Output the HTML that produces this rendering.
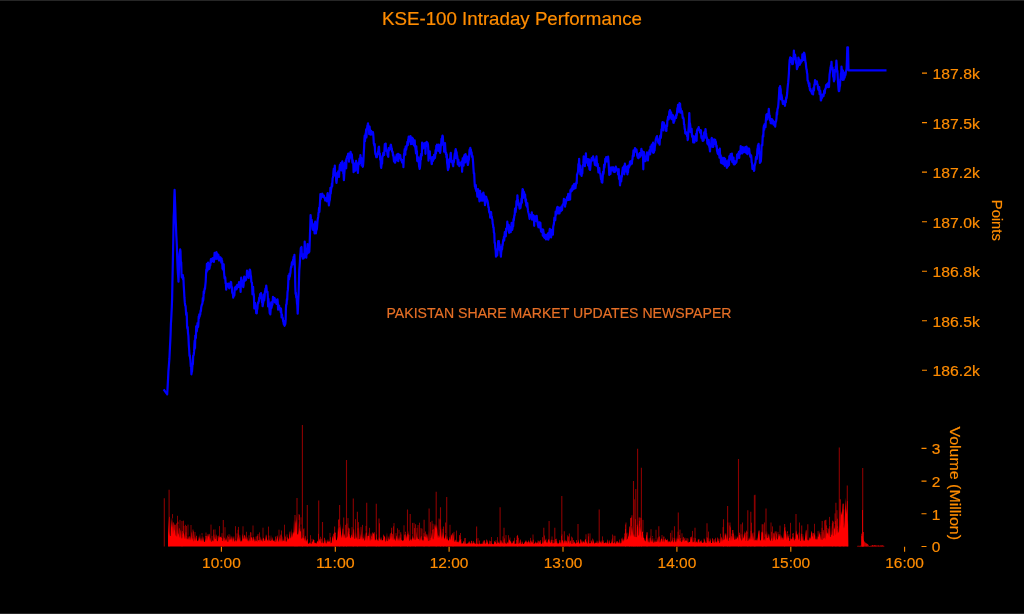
<!DOCTYPE html>
<html><head><meta charset="utf-8"><style>
html,body{margin:0;padding:0;background:#000;width:1024px;height:614px;overflow:hidden}
svg{display:block;filter:blur(0.3px)}
.t{fill:#ff8c00;stroke:#ff8c00;stroke-width:0.2;font-family:"Liberation Sans",sans-serif}
text{font-family:"Liberation Sans",sans-serif}
</style></head><body>
<svg width="1024" height="614" viewBox="0 0 1024 614">
<rect x="0" y="0" width="1024" height="614" fill="#000"/>
<rect x="0" y="0" width="1024" height="1" fill="#262626"/>
<rect x="0" y="613" width="1024" height="1" fill="#262626"/>
<text x="512" y="25.1" text-anchor="middle" class="t" font-size="17.7" textLength="260" lengthAdjust="spacingAndGlyphs">KSE-100 Intraday Performance</text>
<text x="386.5" y="317.9" fill="#e66f26" stroke="#e66f26" stroke-width="0.2" font-size="15.5" textLength="345" lengthAdjust="spacingAndGlyphs">PAKISTAN SHARE MARKET UPDATES NEWSPAPER</text>
<path d="M163.6 389.4 L163.9 389.8 L164.3 390.3 L164.6 390.7 L164.9 391.2 L165.2 391.6 L165.6 392.1 L165.9 392.5 L166.2 393.0 L166.5 393.4 L166.9 393.9 L167.2 394.3 L167.5 389.1 L167.8 383.9 L168.1 378.1 L168.4 371.3 L168.8 366.4 L169.1 362.7 L169.4 358.7 L169.7 352.7 L170.0 346.4 L170.3 340.5 L170.6 333.9 L170.9 324.1 L171.2 319.5 L171.5 313.2 L171.8 307.1 L172.1 298.9 L172.4 283.8 L172.7 269.0 L173.1 249.2 L173.4 234.2 L173.7 217.0 L174.0 211.2 L174.3 197.4 L174.6 189.8 L174.9 198.2 L175.3 208.5 L175.6 219.0 L175.9 224.6 L176.3 235.5 L176.6 240.5 L176.9 247.3 L177.3 260.0 L177.6 267.9 L177.9 273.1 L178.2 277.2 L178.5 281.6 L178.8 272.7 L179.2 260.5 L179.5 254.2 L179.8 252.1 L180.2 249.3 L180.5 251.3 L180.8 261.5 L181.2 262.4 L181.5 273.8 L181.8 277.4 L182.1 277.0 L182.4 276.9 L182.8 275.0 L183.1 279.7 L183.4 277.7 L183.7 284.9 L184.1 291.4 L184.4 297.2 L184.8 302.4 L185.2 305.6 L185.6 306.0 L185.9 310.7 L186.2 314.9 L186.5 312.6 L186.8 315.9 L187.1 326.8 L187.4 328.5 L187.7 327.1 L188.0 333.0 L188.4 335.9 L188.8 344.8 L189.2 350.0 L189.5 356.0 L189.8 355.2 L190.1 357.9 L190.4 360.3 L190.8 366.4 L191.1 364.2 L191.4 374.3 L191.7 372.0 L192.0 371.6 L192.3 367.0 L192.6 363.7 L192.9 364.3 L193.2 355.5 L193.5 355.6 L193.8 354.2 L194.1 351.4 L194.4 344.7 L194.7 340.7 L195.0 348.4 L195.3 335.6 L195.6 335.5 L195.9 338.2 L196.2 326.4 L196.5 327.8 L196.8 331.3 L197.2 328.0 L197.5 323.1 L197.8 324.4 L198.1 326.8 L198.4 323.6 L198.7 316.6 L199.0 318.5 L199.3 314.3 L199.6 316.6 L199.9 314.4 L200.2 314.7 L200.6 310.5 L200.9 311.1 L201.2 307.4 L201.5 306.0 L201.8 304.9 L202.1 304.4 L202.5 303.0 L202.8 298.0 L203.1 300.7 L203.4 298.9 L203.7 291.6 L204.0 293.4 L204.4 290.1 L204.7 288.4 L205.0 289.0 L205.3 285.4 L205.7 281.7 L206.0 274.7 L206.3 269.6 L206.6 272.0 L206.9 263.8 L207.2 265.6 L207.5 270.4 L207.8 267.2 L208.1 262.7 L208.4 267.3 L208.8 266.1 L209.1 267.3 L209.4 268.9 L209.7 267.0 L210.0 263.5 L210.3 265.4 L210.6 262.2 L210.9 259.0 L211.2 262.2 L211.5 261.1 L211.8 261.6 L212.1 259.7 L212.4 258.4 L212.7 259.0 L213.0 259.7 L213.3 258.2 L213.6 258.0 L213.9 261.9 L214.2 259.0 L214.6 252.9 L214.9 253.5 L215.2 255.9 L215.5 253.6 L215.8 254.8 L216.1 258.9 L216.4 252.0 L216.7 255.6 L217.0 258.7 L217.3 253.7 L217.6 254.5 L217.9 255.5 L218.2 256.3 L218.5 255.0 L218.8 258.7 L219.1 260.5 L219.4 259.8 L219.8 257.3 L220.1 258.4 L220.4 257.3 L220.7 257.7 L221.0 260.2 L221.3 262.6 L221.6 258.6 L221.9 262.9 L222.2 261.0 L222.5 268.6 L222.8 267.9 L223.1 269.6 L223.4 265.8 L223.7 264.4 L224.0 272.0 L224.3 275.4 L224.6 278.5 L225.0 277.0 L225.3 277.8 L225.6 283.5 L225.9 283.5 L226.2 289.7 L226.5 286.6 L226.8 283.9 L227.1 286.7 L227.4 286.5 L227.7 283.9 L228.0 285.5 L228.3 285.7 L228.6 283.5 L228.9 287.5 L229.3 288.3 L229.6 284.3 L229.9 283.6 L230.2 283.7 L230.5 286.3 L230.8 281.8 L231.1 282.2 L231.5 287.1 L231.8 286.9 L232.2 292.5 L232.5 293.3 L232.9 294.0 L233.2 297.7 L233.5 295.5 L233.8 295.4 L234.1 295.7 L234.4 295.0 L234.8 287.7 L235.1 288.9 L235.4 287.2 L235.7 286.7 L236.0 287.1 L236.3 289.3 L236.6 286.5 L236.9 288.6 L237.2 284.8 L237.5 287.5 L237.8 286.0 L238.1 285.0 L238.4 285.1 L238.7 287.0 L239.0 282.2 L239.3 284.1 L239.7 286.7 L240.0 284.0 L240.3 287.0 L240.6 292.0 L240.9 282.3 L241.2 277.5 L241.5 280.7 L241.8 283.4 L242.1 285.6 L242.4 282.0 L242.7 280.9 L243.0 284.2 L243.3 287.2 L243.6 285.2 L243.9 280.4 L244.2 276.6 L244.5 281.2 L244.8 277.1 L245.2 278.8 L245.5 278.4 L245.8 280.1 L246.1 279.2 L246.4 277.3 L246.7 276.9 L247.0 270.5 L247.3 271.6 L247.6 275.2 L247.9 273.5 L248.2 274.4 L248.6 278.0 L248.9 275.5 L249.2 274.0 L249.5 272.1 L249.8 269.5 L250.1 270.2 L250.4 272.0 L250.7 275.5 L251.0 276.2 L251.3 281.6 L251.6 282.5 L251.9 282.7 L252.2 286.9 L252.5 294.4 L252.8 291.6 L253.1 286.9 L253.4 294.7 L253.7 294.1 L254.0 298.2 L254.3 308.5 L254.7 303.2 L255.0 302.9 L255.3 305.7 L255.6 306.5 L255.9 307.8 L256.2 313.1 L256.5 311.1 L256.8 313.3 L257.1 308.5 L257.4 308.9 L257.7 304.1 L258.0 302.6 L258.3 303.2 L258.6 301.6 L258.9 301.3 L259.2 297.9 L259.5 297.6 L259.8 297.5 L260.1 294.0 L260.4 296.8 L260.7 294.4 L261.0 293.0 L261.4 298.7 L261.7 299.0 L262.0 302.5 L262.3 302.1 L262.6 306.2 L262.9 304.5 L263.3 302.1 L263.6 294.5 L263.9 296.6 L264.2 300.3 L264.6 296.9 L264.9 291.9 L265.2 290.9 L265.5 288.7 L265.9 290.7 L266.2 285.5 L266.5 287.9 L266.8 291.5 L267.1 292.2 L267.5 291.8 L267.8 296.5 L268.1 306.4 L268.4 298.9 L268.7 302.1 L269.1 304.3 L269.4 308.3 L269.7 313.3 L270.0 311.0 L270.3 314.3 L270.6 310.4 L270.9 305.9 L271.2 302.3 L271.5 307.8 L271.8 306.0 L272.1 305.1 L272.4 304.7 L272.7 301.0 L273.0 296.8 L273.3 297.6 L273.6 297.7 L273.9 297.9 L274.3 301.3 L274.6 298.0 L274.9 302.4 L275.2 301.2 L275.6 301.2 L275.9 299.8 L276.2 300.8 L276.5 303.9 L276.9 299.8 L277.2 302.6 L277.5 299.4 L277.8 303.0 L278.1 309.6 L278.5 308.3 L278.8 306.2 L279.1 305.7 L279.4 309.4 L279.7 309.3 L280.1 308.1 L280.4 309.1 L280.7 312.2 L281.0 308.7 L281.3 312.0 L281.6 317.5 L281.9 314.4 L282.2 316.2 L282.5 317.4 L282.8 318.0 L283.1 321.1 L283.4 321.9 L283.7 323.6 L284.0 324.7 L284.3 321.0 L284.6 325.8 L284.9 324.7 L285.3 323.9 L285.6 320.8 L285.9 308.8 L286.2 304.7 L286.6 303.9 L286.9 299.1 L287.2 299.8 L287.5 292.3 L287.9 289.9 L288.2 284.2 L288.5 275.5 L288.8 279.5 L289.1 279.2 L289.5 273.5 L289.8 276.5 L290.1 274.3 L290.4 273.1 L290.7 269.1 L291.1 266.7 L291.4 267.1 L291.7 264.0 L292.0 262.2 L292.3 264.6 L292.7 264.5 L293.0 260.0 L293.4 258.7 L293.7 256.9 L294.1 261.2 L294.4 254.9 L294.7 263.5 L295.0 271.9 L295.3 286.7 L295.6 294.0 L295.9 292.7 L296.3 297.6 L296.6 296.8 L297.0 303.3 L297.3 305.2 L297.7 313.7 L298.0 307.5 L298.3 299.1 L298.6 293.3 L299.0 279.5 L299.3 269.6 L299.6 266.2 L299.9 261.7 L300.2 255.3 L300.5 252.6 L300.8 248.1 L301.1 247.7 L301.5 247.0 L301.8 254.1 L302.2 256.4 L302.5 256.5 L302.9 258.6 L303.2 256.7 L303.5 258.5 L303.8 254.2 L304.1 257.5 L304.4 255.0 L304.7 241.6 L305.0 247.1 L305.4 252.5 L305.7 255.0 L306.0 254.8 L306.3 257.6 L306.6 249.2 L306.9 250.6 L307.2 253.8 L307.5 244.1 L307.8 247.2 L308.1 248.7 L308.4 251.8 L308.7 252.7 L309.0 249.1 L309.3 251.8 L309.6 245.6 L310.0 233.5 L310.3 225.7 L310.6 215.1 L310.9 218.2 L311.3 219.9 L311.6 219.7 L312.0 222.4 L312.3 223.3 L312.7 229.1 L313.0 229.8 L313.3 228.7 L313.6 224.7 L313.9 229.4 L314.2 228.8 L314.6 233.4 L314.9 226.1 L315.2 221.7 L315.5 224.9 L315.9 233.3 L316.3 229.8 L316.7 229.8 L317.0 227.9 L317.3 224.0 L317.6 220.2 L317.9 218.5 L318.2 216.9 L318.5 213.0 L318.8 211.4 L319.1 207.8 L319.4 211.9 L319.7 206.9 L320.0 202.7 L320.4 194.1 L320.7 199.0 L321.0 196.9 L321.3 197.4 L321.6 195.6 L321.9 194.8 L322.3 193.7 L322.6 196.4 L322.9 195.4 L323.2 196.9 L323.6 197.2 L323.9 195.6 L324.2 197.6 L324.5 197.3 L324.9 198.4 L325.2 200.5 L325.5 199.0 L325.8 198.7 L326.1 198.1 L326.4 200.6 L326.8 201.3 L327.1 200.3 L327.4 194.1 L327.7 193.1 L328.1 196.6 L328.5 200.5 L328.9 205.4 L329.2 202.5 L329.5 200.9 L329.8 200.0 L330.1 196.7 L330.4 187.8 L330.7 193.7 L331.0 190.3 L331.3 188.2 L331.6 187.7 L331.9 183.6 L332.2 186.1 L332.6 178.4 L332.9 177.6 L333.2 175.9 L333.5 171.4 L333.8 168.7 L334.1 173.9 L334.5 174.1 L334.8 165.6 L335.2 174.2 L335.5 176.1 L335.9 176.0 L336.2 180.9 L336.5 182.9 L336.8 179.9 L337.1 176.8 L337.4 172.8 L337.8 176.6 L338.1 172.1 L338.4 171.1 L338.7 171.1 L339.0 177.0 L339.3 171.5 L339.6 167.5 L339.9 164.8 L340.2 166.7 L340.5 166.4 L340.8 163.0 L341.1 165.9 L341.4 170.5 L341.7 162.8 L342.0 163.3 L342.3 161.3 L342.6 163.2 L343.0 166.4 L343.3 173.7 L343.6 173.6 L343.9 180.2 L344.3 173.9 L344.6 170.1 L344.9 162.7 L345.2 162.6 L345.6 162.2 L345.9 160.4 L346.2 168.3 L346.5 158.8 L346.9 157.6 L347.2 156.5 L347.5 155.9 L347.8 156.4 L348.1 153.9 L348.4 153.6 L348.7 155.9 L349.0 161.7 L349.4 153.9 L349.7 158.8 L350.0 155.6 L350.3 154.5 L350.6 151.9 L350.9 154.0 L351.2 155.7 L351.5 156.5 L351.8 154.3 L352.1 157.9 L352.4 162.7 L352.7 160.2 L353.0 162.1 L353.3 163.8 L353.6 172.1 L353.9 165.9 L354.2 166.6 L354.5 165.4 L354.8 163.5 L355.1 165.6 L355.5 170.7 L355.8 164.1 L356.1 160.9 L356.4 164.3 L356.7 162.6 L357.0 167.5 L357.3 164.8 L357.6 164.9 L357.9 173.0 L358.2 167.2 L358.5 164.6 L358.9 164.3 L359.2 161.6 L359.5 158.7 L359.8 163.1 L360.1 161.9 L360.4 155.2 L360.7 158.9 L361.0 162.7 L361.3 157.9 L361.6 165.4 L361.9 159.5 L362.2 163.6 L362.5 165.7 L362.8 166.8 L363.1 165.0 L363.4 161.1 L363.8 152.6 L364.1 147.6 L364.4 139.3 L364.7 135.6 L365.0 141.3 L365.3 135.8 L365.6 133.7 L365.9 132.9 L366.2 129.4 L366.5 137.4 L366.8 128.8 L367.1 128.5 L367.4 125.8 L367.7 124.8 L368.0 123.4 L368.3 125.8 L368.6 128.7 L368.9 127.7 L369.2 134.2 L369.6 126.6 L369.9 130.3 L370.2 132.1 L370.5 134.4 L370.8 134.7 L371.2 130.8 L371.5 133.7 L371.9 133.5 L372.2 132.5 L372.6 134.4 L372.9 132.0 L373.2 133.7 L373.5 138.1 L373.8 143.6 L374.1 144.2 L374.4 145.9 L374.7 144.1 L375.0 150.6 L375.4 154.2 L375.7 153.8 L376.0 155.9 L376.3 157.2 L376.6 156.5 L376.9 157.0 L377.3 154.7 L377.6 154.2 L378.0 152.0 L378.3 150.8 L378.7 147.1 L379.0 146.7 L379.3 154.3 L379.6 153.4 L379.9 153.7 L380.2 159.8 L380.6 158.5 L380.9 166.2 L381.2 167.8 L381.5 165.0 L381.8 160.6 L382.1 163.7 L382.4 156.2 L382.7 156.3 L383.0 155.5 L383.3 152.9 L383.6 155.0 L383.9 153.4 L384.2 154.9 L384.5 149.1 L384.8 144.0 L385.1 146.7 L385.4 145.7 L385.7 143.6 L386.0 150.7 L386.4 150.0 L386.7 150.6 L387.0 151.2 L387.3 152.2 L387.6 155.2 L387.9 155.6 L388.3 156.8 L388.6 148.2 L388.9 149.9 L389.2 150.5 L389.6 149.4 L389.9 149.4 L390.2 148.4 L390.5 145.5 L390.9 144.7 L391.2 146.7 L391.5 147.6 L391.8 148.4 L392.1 151.7 L392.4 151.5 L392.7 152.2 L393.0 155.6 L393.4 155.1 L393.7 158.5 L394.0 161.4 L394.3 159.5 L394.6 161.5 L394.9 162.6 L395.2 162.6 L395.5 157.4 L395.8 158.2 L396.1 158.7 L396.4 156.2 L396.8 154.6 L397.1 160.3 L397.4 158.4 L397.7 154.7 L398.0 153.9 L398.3 161.2 L398.6 154.0 L398.9 155.2 L399.3 155.7 L399.6 158.2 L399.9 155.4 L400.2 155.1 L400.6 158.6 L400.9 158.9 L401.2 160.4 L401.5 159.9 L401.9 161.9 L402.2 162.6 L402.5 161.5 L402.8 162.0 L403.1 159.9 L403.4 167.1 L403.7 160.3 L404.0 154.6 L404.4 152.2 L404.7 149.0 L405.0 152.7 L405.3 154.6 L405.6 146.7 L405.9 149.1 L406.2 149.7 L406.5 147.7 L406.8 145.7 L407.1 145.6 L407.4 141.8 L407.8 145.2 L408.1 140.9 L408.4 139.3 L408.7 136.7 L409.0 140.0 L409.3 138.8 L409.6 138.1 L409.9 141.4 L410.2 139.8 L410.5 136.2 L410.8 144.2 L411.1 141.1 L411.5 139.9 L411.8 137.9 L412.1 143.8 L412.4 137.8 L412.7 140.0 L413.0 138.8 L413.3 141.8 L413.6 144.2 L414.0 145.5 L414.3 143.7 L414.7 140.3 L415.0 146.4 L415.4 147.8 L415.7 150.3 L416.0 153.3 L416.3 146.3 L416.6 152.5 L416.9 151.0 L417.2 160.9 L417.5 158.2 L417.9 161.4 L418.2 157.3 L418.5 159.9 L418.8 161.6 L419.1 166.2 L419.4 167.5 L419.7 168.9 L420.0 167.1 L420.3 163.7 L420.6 156.0 L420.9 159.6 L421.2 153.8 L421.5 154.0 L421.8 155.5 L422.1 142.7 L422.4 147.4 L422.7 148.9 L423.0 146.7 L423.3 143.6 L423.6 147.5 L423.9 146.0 L424.2 147.7 L424.5 143.4 L424.9 143.1 L425.2 143.6 L425.5 153.8 L425.8 144.6 L426.1 142.6 L426.4 146.3 L426.7 141.8 L427.0 144.6 L427.3 142.6 L427.6 143.1 L427.9 144.2 L428.2 147.9 L428.5 160.6 L428.8 153.8 L429.1 154.9 L429.5 158.1 L429.8 151.3 L430.1 158.2 L430.4 158.0 L430.7 158.5 L431.0 158.9 L431.3 159.5 L431.6 163.8 L431.9 164.0 L432.2 157.2 L432.5 160.2 L432.8 161.0 L433.1 160.7 L433.5 157.4 L433.8 159.2 L434.1 154.9 L434.4 157.6 L434.7 154.5 L435.0 157.8 L435.3 154.0 L435.6 150.2 L436.0 153.4 L436.3 145.9 L436.7 150.3 L437.0 144.7 L437.4 145.4 L437.7 145.5 L438.0 150.6 L438.3 148.2 L438.6 144.7 L438.9 147.1 L439.2 151.1 L439.5 150.5 L439.8 150.3 L440.1 152.8 L440.5 150.4 L440.8 144.4 L441.1 145.6 L441.5 138.8 L441.9 142.5 L442.2 136.9 L442.5 135.5 L442.8 136.4 L443.1 141.4 L443.4 145.1 L443.8 143.9 L444.1 151.7 L444.4 144.9 L444.7 146.7 L445.0 143.0 L445.3 148.1 L445.6 152.3 L445.9 154.1 L446.2 153.0 L446.5 157.4 L446.8 154.7 L447.1 162.8 L447.4 164.5 L447.7 167.8 L448.0 170.1 L448.3 168.7 L448.6 167.8 L448.9 167.0 L449.2 159.4 L449.6 161.7 L449.9 158.5 L450.2 159.9 L450.5 154.5 L450.8 152.8 L451.1 157.8 L451.5 162.1 L451.8 161.3 L452.2 161.4 L452.5 162.3 L452.9 165.0 L453.2 166.2 L453.5 160.7 L453.8 162.4 L454.1 160.3 L454.4 156.9 L454.8 153.7 L455.1 154.5 L455.4 150.6 L455.7 149.1 L456.0 150.6 L456.3 158.2 L456.6 152.1 L456.9 155.9 L457.2 155.8 L457.5 158.5 L457.8 164.5 L458.1 159.8 L458.4 159.9 L458.7 163.5 L459.0 164.0 L459.3 166.2 L459.6 163.7 L459.9 163.8 L460.2 162.9 L460.6 164.4 L460.9 164.7 L461.2 164.1 L461.5 164.5 L461.8 161.3 L462.1 171.8 L462.4 164.9 L462.7 158.4 L463.0 158.3 L463.3 159.8 L463.6 165.7 L464.0 156.4 L464.3 160.4 L464.6 154.8 L464.9 159.0 L465.2 162.4 L465.5 154.0 L465.8 156.1 L466.2 158.2 L466.5 161.1 L466.9 158.9 L467.2 156.5 L467.6 163.2 L467.9 165.0 L468.2 163.3 L468.5 160.6 L468.8 160.0 L469.1 157.8 L469.4 151.5 L469.7 149.4 L470.0 153.3 L470.3 147.9 L470.6 150.8 L470.9 149.6 L471.2 153.9 L471.6 152.4 L471.9 156.2 L472.2 157.0 L472.5 156.1 L472.8 158.9 L473.1 162.4 L473.5 169.0 L473.8 173.3 L474.2 173.4 L474.5 181.1 L474.9 186.7 L475.2 185.8 L475.5 188.6 L475.8 185.1 L476.1 190.0 L476.4 191.2 L476.7 191.3 L477.0 192.0 L477.4 196.7 L477.7 193.7 L478.0 189.2 L478.3 191.5 L478.6 196.1 L478.9 195.6 L479.2 198.1 L479.5 201.3 L479.8 190.9 L480.1 190.9 L480.4 199.6 L480.7 194.9 L481.0 200.4 L481.3 200.5 L481.6 198.0 L481.9 199.9 L482.2 197.8 L482.5 193.5 L482.8 200.6 L483.1 194.8 L483.4 192.5 L483.8 196.8 L484.1 195.3 L484.4 199.0 L484.7 200.2 L485.0 205.1 L485.3 203.4 L485.6 201.3 L485.9 196.6 L486.2 196.8 L486.5 198.5 L486.8 199.1 L487.1 200.0 L487.4 200.4 L487.7 201.9 L488.0 203.3 L488.4 207.5 L488.7 207.1 L489.0 210.8 L489.3 212.5 L489.6 211.6 L489.9 212.7 L490.2 217.7 L490.5 216.7 L490.8 215.2 L491.1 212.0 L491.4 216.5 L491.8 216.7 L492.1 219.2 L492.4 219.4 L492.7 223.8 L493.0 224.4 L493.3 227.6 L493.6 227.4 L493.9 232.6 L494.3 233.3 L494.6 243.0 L495.0 242.9 L495.3 248.2 L495.7 250.6 L496.0 256.7 L496.3 253.7 L496.6 251.0 L496.9 253.7 L497.2 255.3 L497.6 249.8 L497.9 247.8 L498.2 241.1 L498.5 242.0 L498.8 241.1 L499.2 245.3 L499.5 244.5 L499.9 250.4 L500.2 249.4 L500.6 253.8 L500.9 256.7 L501.2 252.3 L501.5 250.6 L501.8 246.6 L502.1 249.3 L502.4 244.5 L502.7 245.2 L503.0 241.4 L503.3 239.6 L503.6 240.9 L503.9 236.8 L504.2 240.5 L504.5 235.9 L504.8 232.0 L505.1 235.7 L505.4 233.5 L505.8 236.3 L506.1 228.6 L506.4 231.1 L506.7 228.7 L507.0 228.9 L507.3 221.7 L507.6 225.5 L507.9 226.6 L508.2 227.4 L508.5 225.9 L508.8 225.0 L509.1 232.8 L509.4 232.2 L509.8 232.1 L510.1 227.3 L510.4 228.8 L510.7 232.2 L511.0 227.7 L511.3 229.9 L511.6 222.8 L511.9 223.0 L512.2 229.9 L512.5 228.2 L512.9 226.1 L513.2 226.2 L513.5 219.1 L513.8 220.5 L514.1 217.6 L514.4 215.1 L514.7 215.2 L515.0 208.7 L515.3 211.0 L515.6 212.2 L515.9 209.3 L516.2 207.7 L516.5 201.1 L516.8 201.5 L517.1 203.4 L517.4 195.4 L517.7 198.7 L518.0 200.5 L518.3 202.2 L518.6 205.1 L518.9 204.6 L519.2 205.8 L519.6 208.7 L519.9 207.0 L520.2 203.5 L520.5 207.8 L520.8 204.9 L521.2 203.5 L521.5 198.7 L521.9 202.6 L522.2 193.9 L522.6 189.1 L522.9 189.5 L523.2 197.8 L523.5 191.4 L523.8 196.0 L524.1 192.2 L524.4 197.2 L524.8 196.0 L525.1 194.6 L525.4 200.1 L525.7 201.7 L526.0 199.3 L526.3 205.4 L526.6 202.9 L526.9 206.7 L527.3 203.1 L527.6 207.0 L528.0 210.7 L528.3 212.2 L528.7 213.5 L529.0 215.1 L529.3 216.7 L529.6 218.9 L529.9 216.5 L530.2 215.0 L530.5 216.3 L530.8 215.1 L531.1 216.5 L531.5 215.2 L531.8 212.3 L532.1 219.7 L532.4 215.8 L532.7 216.0 L533.0 215.3 L533.3 215.1 L533.6 215.9 L533.9 217.6 L534.2 225.8 L534.5 217.0 L534.8 218.0 L535.1 216.3 L535.5 220.7 L535.8 220.0 L536.1 221.0 L536.4 220.0 L536.7 215.9 L537.0 219.3 L537.3 220.9 L537.6 222.6 L537.9 225.0 L538.2 225.9 L538.5 227.2 L538.8 222.6 L539.1 227.4 L539.5 224.1 L539.8 222.3 L540.1 223.4 L540.4 223.0 L540.7 228.3 L541.0 231.3 L541.3 231.8 L541.6 230.0 L541.9 229.8 L542.2 229.4 L542.5 229.8 L542.8 235.7 L543.1 229.5 L543.4 231.1 L543.7 234.2 L544.0 237.1 L544.3 234.0 L544.6 237.9 L545.0 236.2 L545.3 236.1 L545.6 236.7 L545.9 239.5 L546.2 234.9 L546.5 234.9 L546.8 239.1 L547.1 237.5 L547.4 238.4 L547.7 237.7 L548.0 233.4 L548.3 239.6 L548.6 238.5 L548.9 237.8 L549.2 234.0 L549.5 231.5 L549.8 228.9 L550.2 232.0 L550.5 233.9 L550.8 234.8 L551.1 237.3 L551.4 233.2 L551.7 229.8 L552.0 229.6 L552.3 232.2 L552.6 230.3 L552.9 234.6 L553.2 226.9 L553.5 225.2 L553.8 224.5 L554.1 221.7 L554.4 217.6 L554.7 219.3 L555.0 220.4 L555.3 220.0 L555.6 211.7 L555.9 212.0 L556.2 214.7 L556.5 211.5 L556.8 209.4 L557.1 207.8 L557.4 207.0 L557.7 206.9 L558.0 207.6 L558.3 213.4 L558.6 212.3 L558.9 207.9 L559.2 207.7 L559.5 213.4 L559.9 210.7 L560.2 209.2 L560.5 210.8 L560.8 211.1 L561.1 209.4 L561.4 206.6 L561.7 210.3 L562.0 210.2 L562.3 207.4 L562.6 204.9 L562.9 204.9 L563.2 204.3 L563.6 203.2 L563.9 198.9 L564.2 200.5 L564.5 201.7 L564.8 201.3 L565.1 206.7 L565.4 199.9 L565.7 203.8 L566.0 201.1 L566.3 200.3 L566.6 200.6 L567.0 197.7 L567.3 196.9 L567.6 198.6 L567.9 196.9 L568.2 193.9 L568.5 200.0 L568.8 199.8 L569.1 197.4 L569.4 198.0 L569.7 198.7 L570.1 199.6 L570.4 190.2 L570.8 192.0 L571.1 190.2 L571.5 188.6 L571.8 188.2 L572.1 190.6 L572.4 187.0 L572.7 185.7 L573.0 188.1 L573.3 187.1 L573.6 189.2 L573.9 188.3 L574.2 183.9 L574.6 186.4 L574.9 186.4 L575.2 186.0 L575.5 188.1 L575.8 185.2 L576.1 183.8 L576.4 182.1 L576.7 183.3 L577.0 174.6 L577.4 173.9 L577.7 172.8 L578.1 171.2 L578.4 164.1 L578.8 167.1 L579.1 158.9 L579.4 167.4 L579.7 166.9 L580.0 165.4 L580.4 174.5 L580.7 174.5 L581.0 171.5 L581.3 173.0 L581.6 176.0 L581.9 169.9 L582.3 173.4 L582.6 166.0 L583.0 165.5 L583.3 163.9 L583.7 156.3 L584.0 162.6 L584.3 159.3 L584.6 163.9 L584.9 166.2 L585.2 156.6 L585.6 163.0 L585.9 153.3 L586.2 160.3 L586.5 160.1 L586.8 161.7 L587.1 162.3 L587.4 161.3 L587.7 159.1 L588.0 165.3 L588.3 163.3 L588.6 165.8 L588.9 159.4 L589.2 166.0 L589.5 169.3 L589.8 169.6 L590.1 169.9 L590.5 165.6 L591.0 160.2 L591.3 161.1 L591.7 158.0 L592.0 160.6 L592.4 160.0 L592.7 157.6 L593.1 156.4 L593.4 157.8 L593.7 160.2 L594.0 159.2 L594.3 159.9 L594.6 162.7 L594.9 164.8 L595.2 164.8 L595.6 162.4 L595.9 165.3 L596.2 158.4 L596.5 156.4 L596.8 161.6 L597.1 165.1 L597.4 166.3 L597.7 163.9 L598.0 166.5 L598.4 172.4 L598.7 169.7 L599.0 168.9 L599.3 168.1 L599.6 172.5 L599.9 173.2 L600.3 173.9 L600.6 175.9 L601.0 179.2 L601.3 178.0 L601.7 182.2 L602.0 179.8 L602.3 182.7 L602.7 177.4 L603.0 171.9 L603.4 174.0 L603.7 172.1 L604.1 164.6 L604.4 167.6 L604.7 164.8 L605.0 163.9 L605.3 158.8 L605.6 159.6 L605.9 161.2 L606.2 157.1 L606.6 160.6 L606.9 161.5 L607.2 159.8 L607.5 159.0 L607.8 159.8 L608.1 156.6 L608.5 161.1 L608.9 167.9 L609.3 174.9 L609.6 171.3 L609.9 169.1 L610.2 173.3 L610.5 173.9 L610.8 169.4 L611.1 167.4 L611.5 170.4 L611.8 167.5 L612.1 169.3 L612.4 168.0 L612.7 167.5 L613.0 168.8 L613.3 167.4 L613.6 171.7 L613.9 168.4 L614.2 171.9 L614.5 170.9 L614.9 171.9 L615.2 170.1 L615.5 168.8 L615.8 166.7 L616.1 168.5 L616.4 168.1 L616.7 170.0 L617.0 169.8 L617.4 171.1 L617.7 169.5 L618.0 174.5 L618.3 169.6 L618.7 169.1 L619.0 178.7 L619.3 179.2 L619.6 175.7 L620.0 185.3 L620.3 182.2 L620.6 181.5 L620.9 181.2 L621.2 181.3 L621.5 177.6 L621.9 176.8 L622.2 172.3 L622.5 170.1 L622.8 167.6 L623.1 170.4 L623.4 168.1 L623.7 168.9 L624.0 166.0 L624.3 174.3 L624.6 168.3 L624.9 163.5 L625.2 166.9 L625.6 171.5 L625.9 168.6 L626.2 169.0 L626.5 171.7 L626.8 170.2 L627.1 166.7 L627.4 174.3 L627.7 170.0 L628.0 172.4 L628.4 165.7 L628.7 167.9 L629.0 165.3 L629.3 166.8 L629.7 164.7 L630.0 161.7 L630.3 164.1 L630.6 164.6 L631.0 161.2 L631.3 161.5 L631.6 162.1 L631.9 163.6 L632.2 160.1 L632.5 159.2 L632.8 155.7 L633.1 155.8 L633.5 150.4 L633.8 156.0 L634.1 150.0 L634.4 150.4 L634.7 150.5 L635.0 148.0 L635.3 148.9 L635.6 150.0 L635.9 150.8 L636.2 152.1 L636.5 149.5 L636.9 153.0 L637.2 155.9 L637.5 155.4 L637.8 157.6 L638.1 155.7 L638.4 158.1 L638.7 157.8 L639.0 154.0 L639.4 156.7 L639.7 153.1 L640.1 153.8 L640.4 156.7 L640.8 153.4 L641.1 151.7 L641.4 148.9 L641.7 150.9 L642.0 152.1 L642.3 151.0 L642.6 155.4 L643.0 154.1 L643.3 169.3 L643.6 154.0 L643.9 152.0 L644.2 155.8 L644.5 159.3 L644.8 156.6 L645.1 160.0 L645.4 161.2 L645.7 159.5 L646.0 156.6 L646.3 157.4 L646.7 154.3 L647.0 152.3 L647.3 154.3 L647.6 158.8 L647.9 160.3 L648.2 156.6 L648.5 153.8 L648.9 154.5 L649.2 152.1 L649.5 150.3 L649.8 150.2 L650.2 154.3 L650.5 146.6 L650.8 146.6 L651.1 150.7 L651.4 147.4 L651.8 144.5 L652.1 149.4 L652.4 147.7 L652.7 152.3 L653.1 142.6 L653.4 152.9 L653.7 152.5 L654.0 151.9 L654.3 146.5 L654.6 150.4 L654.9 145.9 L655.2 144.9 L655.5 142.4 L655.8 139.2 L656.1 139.6 L656.4 137.1 L656.7 136.9 L657.0 136.1 L657.3 138.1 L657.7 139.1 L658.0 140.6 L658.3 142.6 L658.6 142.9 L659.0 142.4 L659.3 140.6 L659.6 144.7 L659.9 138.7 L660.2 135.5 L660.6 138.2 L660.9 137.2 L661.2 133.3 L661.5 129.3 L661.9 129.3 L662.2 123.8 L662.5 122.2 L662.8 124.6 L663.1 126.1 L663.5 130.4 L663.8 122.6 L664.1 125.4 L664.5 124.4 L664.8 126.5 L665.1 125.8 L665.4 127.0 L665.8 127.0 L666.1 131.0 L666.4 131.0 L666.7 126.1 L667.1 126.1 L667.4 120.4 L667.7 119.9 L668.1 116.7 L668.4 117.3 L668.7 119.5 L669.0 115.9 L669.4 111.4 L669.7 113.2 L670.0 110.2 L670.3 111.6 L670.7 117.7 L671.0 112.3 L671.3 113.4 L671.6 119.2 L671.9 115.9 L672.2 115.3 L672.5 118.0 L672.8 115.1 L673.1 116.2 L673.4 122.7 L673.7 122.8 L674.0 119.0 L674.3 121.3 L674.6 119.8 L674.9 117.5 L675.2 117.1 L675.5 117.6 L675.8 115.6 L676.1 118.0 L676.4 114.5 L676.7 115.4 L677.0 112.3 L677.4 108.1 L677.7 112.5 L678.0 104.9 L678.3 110.4 L678.6 107.9 L678.9 109.4 L679.2 111.4 L679.5 103.2 L679.8 104.2 L680.1 103.7 L680.4 112.7 L680.7 108.3 L681.1 111.7 L681.4 112.6 L681.7 110.9 L682.0 111.3 L682.4 114.4 L682.7 117.9 L683.0 117.3 L683.3 117.8 L683.7 119.2 L684.0 124.4 L684.3 124.3 L684.7 129.2 L685.0 129.0 L685.3 133.3 L685.6 133.7 L685.9 132.9 L686.2 132.2 L686.5 133.5 L686.8 134.0 L687.1 136.2 L687.4 135.9 L687.7 140.1 L688.0 138.8 L688.3 132.1 L688.7 127.0 L689.0 121.3 L689.3 113.1 L689.6 122.4 L690.0 123.6 L690.3 125.6 L690.6 132.2 L690.9 130.5 L691.2 130.4 L691.6 128.8 L691.9 134.9 L692.2 136.8 L692.5 136.0 L692.8 135.6 L693.2 142.4 L693.5 136.7 L693.8 140.8 L694.1 138.5 L694.4 142.3 L694.7 138.2 L695.0 136.4 L695.3 137.7 L695.6 138.4 L695.9 139.9 L696.2 133.9 L696.6 140.8 L696.9 131.2 L697.2 129.9 L697.5 130.5 L697.8 128.7 L698.1 129.7 L698.4 129.3 L698.7 127.1 L699.0 129.5 L699.4 129.9 L699.7 130.4 L700.0 132.4 L700.3 130.2 L700.7 133.4 L701.0 130.4 L701.3 136.9 L701.6 138.2 L702.0 138.1 L702.3 136.4 L702.6 140.8 L702.9 137.2 L703.2 140.7 L703.6 140.3 L703.9 137.0 L704.2 132.3 L704.5 135.9 L704.9 137.4 L705.2 131.8 L705.5 129.0 L705.8 132.2 L706.1 133.7 L706.5 138.3 L706.8 137.3 L707.1 139.5 L707.4 143.7 L707.8 142.0 L708.1 144.0 L708.4 144.7 L708.7 139.8 L709.0 144.3 L709.3 147.0 L709.6 147.4 L710.0 151.4 L710.3 144.3 L710.6 146.2 L710.9 146.7 L711.2 143.5 L711.5 138.6 L711.8 137.9 L712.1 142.9 L712.4 140.5 L712.7 146.9 L713.1 146.9 L713.4 146.3 L713.7 140.9 L714.0 139.4 L714.3 140.8 L714.6 141.9 L714.9 141.1 L715.2 139.8 L715.5 144.3 L715.8 141.7 L716.1 144.3 L716.4 146.8 L716.7 145.8 L717.0 150.4 L717.4 152.1 L717.7 153.5 L718.0 154.0 L718.3 150.2 L718.6 152.6 L718.9 154.9 L719.2 151.0 L719.5 157.6 L719.8 148.6 L720.1 156.4 L720.4 156.1 L720.7 155.2 L721.0 162.6 L721.3 159.7 L721.6 163.2 L721.9 157.6 L722.2 160.4 L722.5 161.1 L722.8 159.9 L723.1 163.8 L723.4 160.5 L723.7 164.2 L724.0 157.8 L724.4 159.6 L724.7 165.8 L725.0 158.5 L725.3 160.3 L725.6 160.6 L725.9 165.5 L726.2 161.1 L726.5 163.3 L726.8 167.8 L727.1 167.4 L727.4 163.0 L727.7 165.4 L728.0 166.2 L728.3 160.2 L728.6 165.3 L729.0 164.9 L729.3 156.7 L729.6 156.0 L729.9 159.9 L730.3 157.6 L730.6 154.1 L730.9 154.5 L731.2 158.6 L731.5 156.9 L731.9 153.7 L732.2 161.9 L732.5 160.3 L732.8 162.4 L733.2 159.8 L733.5 157.5 L733.8 164.3 L734.1 163.3 L734.4 160.8 L734.7 164.3 L735.0 163.9 L735.3 161.7 L735.6 161.8 L735.9 162.3 L736.2 162.6 L736.5 161.8 L736.8 159.1 L737.1 154.5 L737.4 158.5 L737.7 157.0 L738.0 158.0 L738.3 153.6 L738.6 154.1 L738.9 151.8 L739.2 157.8 L739.5 153.7 L739.8 154.5 L740.1 150.9 L740.4 153.8 L740.7 146.2 L741.0 149.3 L741.3 150.6 L741.6 150.6 L741.9 149.5 L742.2 153.5 L742.5 150.0 L742.8 147.2 L743.1 150.1 L743.4 148.9 L743.7 149.8 L744.0 152.1 L744.3 148.2 L744.6 149.6 L744.9 151.7 L745.2 147.2 L745.5 150.6 L745.9 149.1 L746.2 152.8 L746.5 146.5 L746.8 149.0 L747.1 148.1 L747.4 154.1 L747.7 150.3 L748.0 152.6 L748.3 151.5 L748.6 149.0 L748.9 148.4 L749.2 149.2 L749.5 152.5 L749.8 153.6 L750.1 155.8 L750.5 156.9 L750.8 157.0 L751.1 155.4 L751.4 158.1 L751.7 162.6 L752.1 163.1 L752.4 168.9 L752.7 165.9 L753.0 168.8 L753.3 165.9 L753.7 167.0 L754.0 170.9 L754.3 170.1 L754.6 165.0 L754.9 165.0 L755.2 163.3 L755.5 162.5 L755.8 158.5 L756.1 156.9 L756.5 156.8 L756.8 158.9 L757.1 155.3 L757.4 148.8 L757.7 148.4 L758.0 145.2 L758.3 144.7 L758.6 143.9 L759.0 149.8 L759.3 153.9 L759.6 152.3 L759.9 162.9 L760.3 160.4 L760.6 162.0 L760.9 161.0 L761.3 154.8 L761.6 145.2 L762.0 145.4 L762.3 145.4 L762.7 136.8 L763.0 135.1 L763.3 136.4 L763.6 127.9 L763.9 125.9 L764.2 129.6 L764.5 124.4 L764.9 125.8 L765.2 124.6 L765.5 127.1 L765.8 121.2 L766.1 117.8 L766.4 114.6 L766.7 115.6 L767.0 114.1 L767.4 119.4 L767.7 116.1 L768.1 116.8 L768.4 114.1 L768.8 108.9 L769.1 113.1 L769.4 115.4 L769.7 115.6 L770.0 120.5 L770.4 118.5 L770.7 123.1 L771.0 119.5 L771.3 123.4 L771.6 121.7 L771.9 119.1 L772.2 122.2 L772.5 122.7 L772.8 121.4 L773.1 120.5 L773.4 124.3 L773.7 123.8 L774.0 121.6 L774.3 125.1 L774.6 125.4 L774.9 124.5 L775.2 126.6 L775.5 123.0 L775.8 122.0 L776.1 121.2 L776.5 118.3 L776.8 112.3 L777.1 114.7 L777.4 109.9 L777.7 108.2 L778.0 108.0 L778.4 104.1 L778.7 99.7 L779.1 93.4 L779.4 87.6 L779.8 90.3 L780.1 86.2 L780.4 88.3 L780.7 89.2 L781.0 99.4 L781.4 94.6 L781.7 96.1 L782.0 98.3 L782.3 100.1 L782.6 102.1 L782.9 103.8 L783.3 101.0 L783.6 102.2 L784.0 102.2 L784.3 103.8 L784.7 104.6 L785.0 105.8 L785.3 101.0 L785.6 100.1 L785.9 102.2 L786.2 97.4 L786.6 98.1 L786.9 95.6 L787.2 93.0 L787.5 88.7 L787.8 85.9 L788.2 82.4 L788.5 78.9 L788.9 73.4 L789.2 66.9 L789.6 60.6 L789.9 59.3 L790.2 57.3 L790.6 61.8 L790.9 61.2 L791.3 58.2 L791.6 61.9 L792.0 62.8 L792.3 64.2 L792.6 61.9 L792.9 63.8 L793.2 60.1 L793.5 58.6 L793.9 50.6 L794.2 57.5 L794.5 59.2 L794.8 54.4 L795.1 54.8 L795.4 57.5 L795.7 57.7 L796.0 62.4 L796.3 63.3 L796.6 62.8 L796.9 69.2 L797.2 67.9 L797.5 64.1 L797.8 66.9 L798.1 64.4 L798.4 57.5 L798.7 60.1 L799.0 62.7 L799.4 59.3 L799.7 64.8 L800.0 64.1 L800.3 63.0 L800.6 63.1 L800.9 60.6 L801.2 60.3 L801.5 60.7 L801.8 61.4 L802.1 58.9 L802.4 54.4 L802.8 60.1 L803.1 58.1 L803.4 59.8 L803.7 55.9 L804.0 52.7 L804.3 53.0 L804.6 54.4 L804.9 56.7 L805.2 59.6 L805.5 62.1 L805.8 62.9 L806.1 66.3 L806.4 69.1 L806.7 69.5 L807.0 72.9 L807.3 73.9 L807.6 80.7 L807.9 80.6 L808.2 81.3 L808.5 83.5 L808.8 83.3 L809.1 86.3 L809.4 83.3 L809.7 88.3 L810.0 90.0 L810.4 88.7 L810.7 91.0 L811.0 91.5 L811.3 90.8 L811.6 92.2 L811.9 93.6 L812.2 91.6 L812.5 93.2 L812.8 91.6 L813.1 94.5 L813.4 88.2 L813.7 89.1 L814.0 90.4 L814.3 84.8 L814.7 84.0 L815.0 80.2 L815.3 84.4 L815.6 82.5 L815.9 81.9 L816.2 82.7 L816.5 82.6 L816.8 81.3 L817.1 82.8 L817.4 84.1 L817.7 84.9 L818.0 88.7 L818.3 89.3 L818.6 90.0 L818.9 89.0 L819.2 87.0 L819.6 94.2 L819.9 91.3 L820.2 90.7 L820.5 93.1 L820.8 100.5 L821.1 100.4 L821.4 96.6 L821.7 96.0 L822.0 97.9 L822.3 95.7 L822.6 94.6 L822.9 96.2 L823.2 95.9 L823.5 96.1 L823.9 93.8 L824.2 90.6 L824.5 93.4 L824.8 93.0 L825.1 89.5 L825.4 88.7 L825.7 88.3 L826.1 85.1 L826.4 86.9 L826.8 86.8 L827.1 84.2 L827.5 86.4 L827.8 86.2 L828.1 87.2 L828.4 82.6 L828.7 82.8 L829.0 86.9 L829.3 79.7 L829.6 74.3 L830.0 71.8 L830.3 69.5 L830.6 67.8 L830.9 65.7 L831.2 66.2 L831.5 61.8 L831.8 67.8 L832.2 68.7 L832.5 67.6 L832.9 72.2 L833.2 76.9 L833.6 76.6 L833.9 81.3 L834.2 79.3 L834.5 79.8 L834.8 70.0 L835.1 69.6 L835.5 71.4 L835.8 66.6 L836.1 67.7 L836.4 60.6 L836.7 64.3 L837.1 71.5 L837.4 70.9 L837.8 78.7 L838.1 83.6 L838.5 88.5 L838.8 91.1 L839.1 91.2 L839.4 89.4 L839.7 86.6 L840.0 86.0 L840.3 79.3 L840.6 79.8 L840.9 73.4 L841.2 74.0 L841.5 66.5 L841.8 69.4 L842.1 73.9 L842.4 76.7 L842.7 80.0 L843.0 70.7 L843.4 76.3 L843.7 79.7 L844.0 74.8 L844.3 72.9 L844.6 77.6 L844.9 75.2 L845.2 75.6 L845.6 74.2 L845.9 72.0 L846.3 70.2 L846.6 69.0 L847.0 58.1 L847.3 47.3 L847.6 47.3 L848.0 47.3 L848.5 70.3 L886.5 70.3" fill="none" stroke="#0000ff" stroke-width="2.2" stroke-linejoin="round"/>
<path d="M164.3 546.5V498.2M169.1 546.5V489.7M182.0 546.5V521.0M223.3 546.5V520.0M295.0 546.5V515.0M297.0 546.5V498.0M302.4 546.5V425.0M307.3 546.5V505.0M318.7 546.5V500.4M322.5 546.5V522.0M334.6 546.5V526.6M339.6 546.5V505.0M343.7 546.5V517.5M346.5 546.5V459.9M353.3 546.5V498.6M357.4 546.5V511.8M366.7 546.5V502.7M376.3 546.5V503.8M379.0 546.5V518.6M391.6 546.5V527.8M400.7 546.5V532.3M407.5 546.5V509.5M410.2 546.5V514.1M415.5 546.5V524.3M424.1 546.5V519.8M429.1 546.5V508.4M436.2 546.5V491.8M440.5 546.5V507.3M443.5 546.5V526.6M446.7 546.5V497.0M453.0 546.5V533.4M476.6 546.5V526.6M500.1 546.5V507.3M504.0 546.5V527.8M517.6 546.5V535.7M543.8 546.5V527.8M549.1 546.5V521.0M554.8 546.5V527.8M561.8 546.5V495.9M564.3 546.5V531.2M569.4 546.5V533.4M578.0 546.5V523.9M588.3 546.5V533.4M599.2 546.5V509.5M625.5 546.5V528.9M629.6 546.5V526.6M631.9 546.5V515.2M633.5 546.5V481.0M634.2 546.5V499.3M635.8 546.5V489.0M637.6 546.5V448.7M639.2 546.5V517.5M641.4 546.5V467.8M647.1 546.5V532.3M658.8 546.5V526.2M674.5 546.5V526.2M678.3 546.5V512.5M695.0 546.5V527.8M707.0 546.5V523.2M723.5 546.5V519.3M727.6 546.5V506.1M729.8 546.5V525.5M738.5 546.5V459.0M741.0 546.5V524.3M747.8 546.5V510.2M750.8 546.5V511.8M754.4 546.5V495.2M762.2 546.5V524.3M755.0 546.5V494.7M763.0 546.5V524.3M766.0 546.5V508.4M784.6 546.5V523.9M796.0 546.5V514.1M801.7 546.5V525.5M807.8 546.5V524.3M822.2 546.5V520.9M832.4 546.5V523.2M835.9 546.5V502.7M839.3 546.5V447.6M840.4 546.5V499.3M843.8 546.5V509.5M847.3 546.5V485.6M862.7 546.5V468.0" fill="none" stroke="#8c0000" stroke-width="1.1"/>
<path d="M168 546.5 L168.00 535.9 L168.50 517.6 L169.00 533.5 L169.50 532.2 L170.00 536.2 L170.50 535.7 L171.00 517.3 L171.50 522.0 L172.00 528.1 L172.50 517.4 L173.00 534.6 L173.50 522.8 L174.00 522.0 L174.50 529.6 L175.00 530.8 L175.50 535.1 L176.00 536.0 L176.50 536.8 L177.00 527.5 L177.50 537.3 L178.00 520.7 L178.50 533.0 L179.00 535.1 L179.50 537.1 L180.00 538.1 L180.50 531.2 L181.00 529.5 L181.50 537.5 L182.00 538.9 L182.50 535.4 L183.00 533.6 L183.50 533.3 L184.00 531.7 L184.50 539.6 L185.00 532.0 L185.50 539.6 L186.00 536.4 L186.50 536.2 L187.00 539.7 L187.50 538.4 L188.00 534.4 L188.50 540.1 L189.00 536.0 L189.50 536.5 L190.00 540.4 L190.50 536.0 L191.00 540.7 L191.50 533.6 L192.00 531.3 L192.50 540.2 L193.00 535.8 L193.50 541.3 L194.00 541.2 L194.50 533.8 L195.00 541.2 L195.50 538.9 L196.00 536.5 L196.50 535.7 L197.00 540.1 L197.50 541.0 L198.00 541.2 L198.50 539.4 L199.00 535.9 L199.50 539.7 L200.00 533.3 L200.50 541.6 L201.00 537.8 L201.50 541.7 L202.00 533.9 L202.50 538.1 L203.00 541.7 L203.50 536.2 L204.00 541.7 L204.50 541.7 L205.00 541.8 L205.50 536.3 L206.00 541.8 L206.50 535.4 L207.00 536.5 L207.50 540.8 L208.00 533.2 L208.50 536.9 L209.00 534.5 L209.50 533.6 L210.00 541.2 L210.50 537.3 L211.00 541.8 L211.50 541.9 L212.00 541.0 L212.50 540.1 L213.00 541.8 L213.50 541.1 L214.00 541.0 L214.50 536.1 L215.00 539.2 L215.50 538.9 L216.00 534.1 L216.50 535.8 L217.00 541.5 L217.50 540.9 L218.00 540.8 L218.50 534.8 L219.00 538.5 L219.50 537.1 L220.00 536.4 L220.50 537.4 L221.00 536.3 L221.50 538.3 L222.00 535.9 L222.50 541.1 L223.00 541.1 L223.50 535.8 L224.00 541.9 L224.50 537.2 L225.00 538.4 L225.50 539.5 L226.00 541.1 L226.50 536.7 L227.00 541.7 L227.50 541.6 L228.00 542.1 L228.50 541.6 L229.00 537.3 L229.50 540.7 L230.00 534.1 L230.50 538.6 L231.00 540.2 L231.50 537.4 L232.00 535.4 L232.50 542.0 L233.00 536.0 L233.50 540.0 L234.00 535.3 L234.50 541.7 L235.00 540.9 L235.50 537.8 L236.00 542.1 L236.50 540.5 L237.00 540.5 L237.50 536.2 L238.00 541.0 L238.50 536.4 L239.00 533.4 L239.50 540.8 L240.00 534.5 L240.50 541.1 L241.00 541.8 L241.50 539.9 L242.00 541.9 L242.50 533.3 L243.00 536.5 L243.50 539.4 L244.00 535.5 L244.50 534.6 L245.00 539.9 L245.50 535.0 L246.00 539.8 L246.50 539.3 L247.00 536.4 L247.50 538.9 L248.00 541.4 L248.50 539.8 L249.00 542.0 L249.50 537.6 L250.00 541.6 L250.50 539.8 L251.00 534.9 L251.50 537.5 L252.00 537.6 L252.50 541.4 L253.00 534.6 L253.50 540.4 L254.00 536.5 L254.50 541.9 L255.00 538.5 L255.50 541.1 L256.00 541.6 L256.50 540.6 L257.00 541.3 L257.50 542.0 L258.00 539.9 L258.50 540.4 L259.00 540.0 L259.50 540.1 L260.00 541.9 L260.50 537.8 L261.00 540.7 L261.50 540.5 L262.00 537.9 L262.50 541.9 L263.00 539.2 L263.50 537.4 L264.00 538.6 L264.50 540.7 L265.00 541.3 L265.50 538.2 L266.00 534.2 L266.50 535.7 L267.00 539.0 L267.50 541.1 L268.00 539.4 L268.50 541.8 L269.00 536.5 L269.50 540.1 L270.00 540.9 L270.50 541.0 L271.00 534.5 L271.50 540.1 L272.00 540.8 L272.50 536.7 L273.00 540.9 L273.50 540.9 L274.00 539.5 L274.50 541.1 L275.00 541.9 L275.50 542.1 L276.00 536.4 L276.50 542.1 L277.00 537.4 L277.50 534.8 L278.00 539.4 L278.50 542.0 L279.00 540.4 L279.50 535.6 L280.00 542.0 L280.50 537.1 L281.00 533.7 L281.50 542.0 L282.00 538.6 L282.50 541.8 L283.00 538.1 L283.50 541.0 L284.00 540.4 L284.50 541.5 L285.00 533.4 L285.50 541.8 L286.00 541.0 L286.50 542.1 L287.00 538.0 L287.50 536.6 L288.00 540.3 L288.50 538.0 L289.00 539.3 L289.50 531.5 L290.00 535.7 L290.50 537.2 L291.00 538.8 L291.50 528.1 L292.00 537.7 L292.50 534.4 L293.00 531.4 L293.50 534.0 L294.00 519.6 L294.50 529.4 L295.00 533.8 L295.50 519.9 L296.00 523.5 L296.50 515.5 L297.00 533.7 L297.50 534.2 L298.00 534.9 L298.50 530.9 L299.00 519.1 L299.50 525.7 L300.00 531.2 L300.50 531.6 L301.00 523.6 L301.50 538.4 L302.00 538.8 L302.50 536.7 L303.00 539.0 L303.50 535.5 L304.00 535.6 L304.50 541.1 L305.00 535.6 L305.50 536.4 L306.00 542.0 L306.50 540.6 L307.00 539.6 L307.50 538.8 L308.00 543.7 L308.50 543.6 L309.00 543.7 L309.50 542.1 L310.00 543.7 L310.50 543.0 L311.00 543.7 L311.50 543.7 L312.00 539.4 L312.50 542.5 L313.00 540.8 L313.50 539.0 L314.00 540.1 L314.50 542.4 L315.00 543.6 L315.50 542.5 L316.00 543.4 L316.50 543.5 L317.00 541.7 L317.50 540.5 L318.00 542.2 L318.50 542.7 L319.00 540.2 L319.50 540.7 L320.00 540.0 L320.50 539.1 L321.00 542.1 L321.50 543.6 L322.00 542.4 L322.50 543.0 L323.00 540.6 L323.50 543.6 L324.00 543.0 L324.50 538.4 L325.00 538.6 L325.50 542.1 L326.00 543.7 L326.50 543.3 L327.00 542.0 L327.50 541.2 L328.00 538.8 L328.50 542.1 L329.00 541.3 L329.50 541.7 L330.00 538.6 L330.50 543.4 L331.00 542.9 L331.50 542.8 L332.00 539.2 L332.50 535.3 L333.00 538.1 L333.50 541.8 L334.00 532.3 L334.50 537.9 L335.00 532.0 L335.50 533.0 L336.00 540.2 L336.50 540.2 L337.00 539.2 L337.50 536.4 L338.00 526.9 L338.50 532.6 L339.00 525.3 L339.50 537.9 L340.00 532.1 L340.50 523.5 L341.00 532.7 L341.50 538.3 L342.00 533.9 L342.50 526.0 L343.00 538.3 L343.50 533.1 L344.00 538.2 L344.50 533.3 L345.00 535.8 L345.50 538.5 L346.00 537.6 L346.50 537.5 L347.00 537.5 L347.50 536.0 L348.00 528.8 L348.50 527.0 L349.00 534.2 L349.50 532.3 L350.00 538.1 L350.50 538.2 L351.00 535.5 L351.50 534.3 L352.00 537.6 L352.50 537.0 L353.00 531.0 L353.50 538.4 L354.00 528.0 L354.50 538.6 L355.00 539.0 L355.50 537.5 L356.00 531.8 L356.50 538.9 L357.00 536.7 L357.50 539.4 L358.00 539.6 L358.50 539.1 L359.00 526.4 L359.50 538.9 L360.00 539.2 L360.50 533.8 L361.00 539.8 L361.50 527.7 L362.00 540.1 L362.50 537.4 L363.00 537.4 L363.50 539.5 L364.00 532.7 L364.50 540.4 L365.00 540.5 L365.50 535.3 L366.00 530.2 L366.50 533.9 L367.00 541.0 L367.50 535.5 L368.00 536.1 L368.50 536.0 L369.00 531.6 L369.50 541.5 L370.00 534.1 L370.50 541.3 L371.00 536.4 L371.50 537.1 L372.00 540.3 L372.50 531.7 L373.00 533.3 L373.50 534.1 L374.00 532.1 L374.50 532.5 L375.00 541.1 L375.50 539.2 L376.00 540.1 L376.50 538.0 L377.00 538.9 L377.50 539.7 L378.00 541.1 L378.50 540.7 L379.00 536.5 L379.50 538.8 L380.00 538.8 L380.50 540.6 L381.00 536.4 L381.50 539.1 L382.00 541.0 L382.50 540.1 L383.00 540.1 L383.50 536.0 L384.00 535.2 L384.50 536.8 L385.00 536.5 L385.50 541.4 L386.00 541.4 L386.50 538.6 L387.00 531.9 L387.50 540.9 L388.00 541.3 L388.50 535.8 L389.00 540.0 L389.50 538.9 L390.00 533.1 L390.50 533.6 L391.00 539.5 L391.50 531.6 L392.00 540.5 L392.50 533.8 L393.00 533.9 L393.50 539.4 L394.00 539.9 L394.50 539.3 L395.00 537.7 L395.50 541.3 L396.00 539.8 L396.50 535.3 L397.00 536.5 L397.50 540.9 L398.00 537.4 L398.50 540.9 L399.00 532.7 L399.50 537.8 L400.00 541.3 L400.50 536.9 L401.00 538.5 L401.50 540.2 L402.00 539.9 L402.50 541.1 L403.00 540.6 L403.50 540.6 L404.00 539.7 L404.50 534.3 L405.00 534.9 L405.50 530.9 L406.00 540.7 L406.50 534.8 L407.00 538.0 L407.50 534.4 L408.00 535.2 L408.50 530.7 L409.00 540.7 L409.50 541.1 L410.00 539.2 L410.50 540.3 L411.00 538.3 L411.50 540.9 L412.00 538.6 L412.50 533.2 L413.00 539.8 L413.50 537.1 L414.00 540.3 L414.50 539.7 L415.00 538.1 L415.50 540.0 L416.00 539.9 L416.50 531.3 L417.00 539.4 L417.50 536.4 L418.00 539.3 L418.50 538.8 L419.00 539.6 L419.50 541.1 L420.00 536.1 L420.50 538.4 L421.00 540.7 L421.50 535.9 L422.00 536.6 L422.50 540.7 L423.00 540.0 L423.50 540.9 L424.00 536.9 L424.50 536.0 L425.00 536.9 L425.50 537.5 L426.00 533.5 L426.50 534.8 L427.00 538.8 L427.50 533.6 L428.00 540.9 L428.50 541.0 L429.00 530.6 L429.50 540.2 L430.00 540.7 L430.50 537.7 L431.00 538.2 L431.50 534.4 L432.00 530.5 L432.50 538.3 L433.00 539.6 L433.50 539.2 L434.00 538.0 L434.50 526.5 L435.00 523.4 L435.50 528.3 L436.00 524.1 L436.50 529.6 L437.00 524.6 L437.50 532.5 L438.00 538.3 L438.50 535.4 L439.00 535.6 L439.50 537.7 L440.00 528.6 L440.50 536.7 L441.00 525.8 L441.50 535.5 L442.00 539.3 L442.50 531.6 L443.00 537.8 L443.50 532.3 L444.00 537.5 L444.50 539.5 L445.00 537.0 L445.50 532.0 L446.00 538.5 L446.50 540.1 L447.00 535.4 L447.50 538.7 L448.00 540.0 L448.50 540.7 L449.00 540.0 L449.50 537.5 L450.00 536.7 L450.50 540.2 L451.00 534.7 L451.50 534.5 L452.00 536.9 L452.50 541.2 L453.00 539.1 L453.50 534.7 L454.00 541.7 L454.50 541.7 L455.00 539.6 L455.50 540.0 L456.00 542.3 L456.50 542.1 L457.00 540.0 L457.50 542.3 L458.00 542.1 L458.50 542.5 L459.00 540.0 L459.50 541.5 L460.00 540.0 L460.50 539.9 L461.00 538.8 L461.50 543.5 L462.00 543.6 L462.50 543.4 L463.00 542.7 L463.50 540.8 L464.00 544.0 L464.50 543.7 L465.00 541.6 L465.50 544.1 L466.00 543.5 L466.50 543.6 L467.00 544.3 L467.50 543.1 L468.00 543.4 L468.50 541.2 L469.00 544.1 L469.50 540.8 L470.00 542.3 L470.50 543.3 L471.00 544.0 L471.50 541.0 L472.00 540.8 L472.50 544.3 L473.00 542.5 L473.50 543.3 L474.00 542.0 L474.50 544.1 L475.00 542.3 L475.50 544.3 L476.00 543.8 L476.50 543.8 L477.00 543.9 L477.50 543.8 L478.00 541.3 L478.50 544.2 L479.00 544.2 L479.50 543.6 L480.00 543.1 L480.50 544.2 L481.00 543.8 L481.50 543.6 L482.00 544.0 L482.50 543.8 L483.00 541.1 L483.50 541.6 L484.00 544.2 L484.50 540.8 L485.00 541.6 L485.50 544.1 L486.00 543.4 L486.50 540.6 L487.00 543.4 L487.50 540.4 L488.00 542.7 L488.50 544.2 L489.00 544.2 L489.50 541.9 L490.00 544.1 L490.50 544.2 L491.00 544.2 L491.50 543.0 L492.00 543.4 L492.50 543.9 L493.00 544.2 L493.50 544.2 L494.00 543.4 L494.50 540.8 L495.00 542.0 L495.50 541.8 L496.00 543.0 L496.50 543.8 L497.00 543.8 L497.50 542.3 L498.00 543.0 L498.50 543.0 L499.00 541.8 L499.50 543.4 L500.00 543.8 L500.50 540.5 L501.00 540.0 L501.50 541.1 L502.00 544.0 L502.50 542.2 L503.00 542.7 L503.50 544.0 L504.00 542.4 L504.50 541.8 L505.00 544.1 L505.50 542.2 L506.00 544.1 L506.50 543.4 L507.00 543.5 L507.50 541.6 L508.00 543.4 L508.50 542.9 L509.00 539.8 L509.50 539.5 L510.00 540.8 L510.50 541.7 L511.00 540.9 L511.50 543.8 L512.00 543.1 L512.50 543.5 L513.00 540.8 L513.50 542.0 L514.00 542.6 L514.50 544.1 L515.00 543.9 L515.50 543.6 L516.00 543.7 L516.50 543.4 L517.00 543.4 L517.50 543.4 L518.00 543.9 L518.50 544.1 L519.00 542.5 L519.50 543.8 L520.00 539.6 L520.50 539.4 L521.00 544.0 L521.50 544.1 L522.00 540.9 L522.50 542.6 L523.00 544.0 L523.50 543.8 L524.00 543.9 L524.50 542.5 L525.00 542.2 L525.50 540.0 L526.00 542.5 L526.50 539.9 L527.00 544.0 L527.50 541.7 L528.00 542.1 L528.50 539.8 L529.00 543.1 L529.50 541.3 L530.00 544.0 L530.50 540.9 L531.00 540.2 L531.50 542.9 L532.00 539.7 L532.50 543.1 L533.00 542.1 L533.50 543.9 L534.00 544.1 L534.50 543.2 L535.00 543.2 L535.50 541.1 L536.00 543.8 L536.50 542.9 L537.00 542.0 L537.50 543.5 L538.00 539.2 L538.50 544.0 L539.00 543.2 L539.50 541.6 L540.00 540.6 L540.50 542.4 L541.00 543.7 L541.50 544.0 L542.00 543.3 L542.50 543.2 L543.00 540.9 L543.50 544.0 L544.00 540.3 L544.50 541.2 L545.00 541.8 L545.50 539.8 L546.00 540.0 L546.50 543.3 L547.00 541.1 L547.50 543.5 L548.00 539.7 L548.50 539.8 L549.00 539.1 L549.50 542.5 L550.00 539.3 L550.50 542.9 L551.00 542.6 L551.50 539.5 L552.00 540.1 L552.50 544.0 L553.00 540.8 L553.50 543.7 L554.00 542.6 L554.50 543.4 L555.00 539.4 L555.50 539.4 L556.00 543.2 L556.50 540.7 L557.00 540.9 L557.50 544.0 L558.00 542.7 L558.50 543.8 L559.00 543.2 L559.50 539.6 L560.00 543.8 L560.50 541.5 L561.00 543.9 L561.50 542.6 L562.00 540.5 L562.50 540.6 L563.00 540.1 L563.50 543.9 L564.00 540.9 L564.50 540.4 L565.00 543.4 L565.50 539.6 L566.00 541.6 L566.50 540.3 L567.00 543.5 L567.50 542.4 L568.00 539.9 L568.50 541.6 L569.00 540.9 L569.50 543.9 L570.00 540.9 L570.50 540.5 L571.00 543.3 L571.50 543.8 L572.00 543.9 L572.50 543.9 L573.00 540.0 L573.50 542.9 L574.00 543.6 L574.50 541.3 L575.00 542.4 L575.50 543.8 L576.00 543.5 L576.50 541.1 L577.00 543.5 L577.50 541.8 L578.00 543.1 L578.50 539.3 L579.00 542.2 L579.50 543.6 L580.00 543.8 L580.50 540.8 L581.00 538.8 L581.50 543.1 L582.00 539.7 L582.50 543.8 L583.00 541.0 L583.50 541.6 L584.00 542.5 L584.50 542.8 L585.00 539.5 L585.50 539.4 L586.00 539.0 L586.50 541.7 L587.00 543.0 L587.50 543.9 L588.00 540.3 L588.50 540.2 L589.00 542.7 L589.50 543.7 L590.00 541.0 L590.50 543.6 L591.00 542.9 L591.50 539.7 L592.00 541.7 L592.50 543.8 L593.00 542.0 L593.50 538.7 L594.00 543.2 L594.50 543.7 L595.00 542.0 L595.50 542.9 L596.00 543.3 L596.50 542.8 L597.00 542.1 L597.50 543.7 L598.00 540.6 L598.50 543.5 L599.00 542.8 L599.50 542.3 L600.00 541.4 L600.50 543.0 L601.00 540.2 L601.50 543.8 L602.00 541.5 L602.50 542.5 L603.00 541.7 L603.50 542.7 L604.00 543.6 L604.50 542.7 L605.00 543.2 L605.50 541.9 L606.00 543.0 L606.50 543.6 L607.00 541.4 L607.50 541.6 L608.00 543.5 L608.50 543.8 L609.00 539.7 L609.50 541.0 L610.00 543.5 L610.50 543.3 L611.00 543.1 L611.50 542.0 L612.00 538.5 L612.50 538.5 L613.00 543.8 L613.50 543.0 L614.00 543.2 L614.50 542.1 L615.00 542.5 L615.50 543.5 L616.00 543.8 L616.50 541.3 L617.00 541.5 L617.50 540.8 L618.00 543.5 L618.50 541.8 L619.00 543.5 L619.50 543.1 L620.00 540.8 L620.50 543.4 L621.00 543.3 L621.50 543.0 L622.00 541.0 L622.50 536.8 L623.00 541.9 L623.50 538.2 L624.00 541.5 L624.50 533.3 L625.00 540.5 L625.50 532.8 L626.00 539.9 L626.50 539.9 L627.00 538.8 L627.50 539.4 L628.00 537.3 L628.50 535.8 L629.00 531.9 L629.50 526.6 L630.00 533.9 L630.50 536.9 L631.00 532.4 L631.50 525.1 L632.00 537.0 L632.50 525.6 L633.00 533.1 L633.50 536.7 L634.00 533.8 L634.50 536.6 L635.00 537.3 L635.50 537.1 L636.00 536.9 L636.50 537.3 L637.00 524.3 L637.50 527.3 L638.00 522.4 L638.50 535.1 L639.00 536.0 L639.50 524.8 L640.00 523.6 L640.50 528.7 L641.00 532.8 L641.50 538.5 L642.00 530.7 L642.50 532.3 L643.00 531.8 L643.50 538.0 L644.00 537.6 L644.50 539.7 L645.00 541.1 L645.50 541.4 L646.00 537.6 L646.50 534.2 L647.00 535.6 L647.50 538.6 L648.00 542.7 L648.50 541.2 L649.00 537.6 L649.50 542.7 L650.00 542.1 L650.50 535.1 L651.00 542.3 L651.50 539.3 L652.00 542.6 L652.50 535.9 L653.00 542.7 L653.50 542.6 L654.00 537.3 L654.50 542.7 L655.00 540.9 L655.50 542.6 L656.00 537.9 L656.50 541.4 L657.00 542.3 L657.50 539.6 L658.00 536.8 L658.50 540.8 L659.00 542.4 L659.50 542.0 L660.00 542.7 L660.50 541.0 L661.00 539.1 L661.50 538.5 L662.00 538.8 L662.50 540.1 L663.00 542.6 L663.50 537.7 L664.00 535.7 L664.50 542.7 L665.00 538.7 L665.50 538.3 L666.00 540.4 L666.50 539.7 L667.00 540.2 L667.50 538.6 L668.00 542.7 L668.50 541.5 L669.00 540.5 L669.50 541.7 L670.00 541.8 L670.50 542.8 L671.00 541.7 L671.50 540.3 L672.00 542.4 L672.50 536.4 L673.00 541.3 L673.50 542.8 L674.00 537.8 L674.50 539.3 L675.00 541.3 L675.50 542.5 L676.00 537.5 L676.50 542.8 L677.00 535.8 L677.50 541.4 L678.00 539.0 L678.50 539.7 L679.00 537.2 L679.50 540.2 L680.00 541.6 L680.50 539.1 L681.00 542.1 L681.50 542.2 L682.00 538.2 L682.50 542.1 L683.00 536.4 L683.50 540.3 L684.00 540.2 L684.50 542.1 L685.00 540.7 L685.50 540.2 L686.00 541.1 L686.50 540.5 L687.00 538.6 L687.50 541.6 L688.00 542.8 L688.50 542.6 L689.00 541.9 L689.50 541.8 L690.00 541.9 L690.50 537.2 L691.00 537.0 L691.50 536.3 L692.00 539.7 L692.50 542.5 L693.00 542.1 L693.50 541.5 L694.00 542.7 L694.50 539.8 L695.00 543.0 L695.50 541.7 L696.00 542.7 L696.50 540.9 L697.00 542.6 L697.50 542.5 L698.00 538.7 L698.50 539.7 L699.00 540.1 L699.50 542.9 L700.00 541.1 L700.50 540.7 L701.00 542.7 L701.50 539.2 L702.00 543.0 L702.50 542.6 L703.00 543.0 L703.50 542.2 L704.00 542.5 L704.50 538.6 L705.00 540.3 L705.50 542.5 L706.00 543.0 L706.50 543.1 L707.00 542.3 L707.50 537.2 L708.00 540.4 L708.50 541.3 L709.00 543.0 L709.50 541.3 L710.00 541.1 L710.50 537.7 L711.00 543.1 L711.50 543.1 L712.00 543.0 L712.50 539.0 L713.00 538.3 L713.50 543.1 L714.00 538.9 L714.50 543.0 L715.00 542.5 L715.50 542.1 L716.00 541.1 L716.50 542.1 L717.00 543.1 L717.50 537.4 L718.00 537.6 L718.50 541.3 L719.00 541.0 L719.50 543.1 L720.00 542.5 L720.50 540.9 L721.00 538.0 L721.50 536.4 L722.00 542.1 L722.50 537.9 L723.00 540.8 L723.50 539.6 L724.00 540.3 L724.50 538.4 L725.00 532.4 L725.50 535.7 L726.00 532.8 L726.50 537.6 L727.00 540.2 L727.50 533.9 L728.00 540.9 L728.50 541.0 L729.00 537.9 L729.50 537.8 L730.00 537.6 L730.50 540.9 L731.00 536.5 L731.50 535.7 L732.00 541.0 L732.50 534.3 L733.00 534.5 L733.50 532.1 L734.00 539.3 L734.50 540.2 L735.00 534.3 L735.50 540.0 L736.00 538.4 L736.50 539.5 L737.00 535.8 L737.50 537.5 L738.00 537.9 L738.50 541.0 L739.00 535.4 L739.50 533.1 L740.00 535.4 L740.50 539.5 L741.00 536.4 L741.50 540.9 L742.00 539.9 L742.50 538.8 L743.00 533.3 L743.50 538.8 L744.00 537.0 L744.50 530.5 L745.00 535.2 L745.50 540.9 L746.00 540.8 L746.50 530.3 L747.00 530.9 L747.50 541.0 L748.00 541.0 L748.50 540.0 L749.00 537.5 L749.50 540.0 L750.00 535.8 L750.50 538.6 L751.00 540.1 L751.50 536.8 L752.00 532.5 L752.50 533.7 L753.00 540.7 L753.50 535.0 L754.00 540.9 L754.50 539.7 L755.00 540.9 L755.50 539.7 L756.00 539.8 L756.50 540.7 L757.00 537.2 L757.50 541.0 L758.00 535.1 L758.50 531.4 L759.00 530.0 L759.50 530.9 L760.00 541.0 L760.50 540.2 L761.00 539.6 L761.50 531.4 L762.00 532.5 L762.50 533.6 L763.00 531.2 L763.50 539.5 L764.00 540.4 L764.50 536.3 L765.00 540.9 L765.50 539.7 L766.00 530.0 L766.50 538.7 L767.00 530.7 L767.50 537.9 L768.00 538.0 L768.50 535.1 L769.00 533.2 L769.50 537.6 L770.00 540.6 L770.50 541.0 L771.00 537.4 L771.50 538.9 L772.00 537.2 L772.50 541.0 L773.00 540.8 L773.50 533.8 L774.00 532.5 L774.50 534.7 L775.00 539.5 L775.50 540.4 L776.00 530.4 L776.50 535.7 L777.00 538.9 L777.50 539.8 L778.00 538.5 L778.50 535.6 L779.00 534.0 L779.50 536.7 L780.00 531.7 L780.50 536.1 L781.00 540.8 L781.50 534.7 L782.00 538.5 L782.50 536.9 L783.00 540.6 L783.50 537.7 L784.00 530.1 L784.50 539.8 L785.00 535.0 L785.50 530.0 L786.00 531.3 L786.50 536.3 L787.00 540.5 L787.50 530.3 L788.00 538.5 L788.50 536.6 L789.00 536.1 L789.50 541.0 L790.00 541.0 L790.50 536.6 L791.00 539.1 L791.50 539.6 L792.00 537.8 L792.50 534.3 L793.00 539.9 L793.50 538.2 L794.00 536.9 L794.50 540.9 L795.00 539.3 L795.50 539.0 L796.00 530.2 L796.50 531.7 L797.00 535.6 L797.50 533.4 L798.00 536.6 L798.50 540.2 L799.00 537.9 L799.50 539.7 L800.00 532.0 L800.50 541.0 L801.00 540.8 L801.50 533.6 L802.00 533.9 L802.50 540.8 L803.00 533.1 L803.50 540.2 L804.00 540.7 L804.50 540.8 L805.00 538.8 L805.50 533.4 L806.00 529.5 L806.50 530.8 L807.00 540.6 L807.50 540.1 L808.00 539.3 L808.50 540.6 L809.00 540.4 L809.50 537.7 L810.00 537.3 L810.50 539.2 L811.00 533.9 L811.50 531.0 L812.00 531.8 L812.50 536.5 L813.00 536.5 L813.50 539.2 L814.00 534.1 L814.50 535.7 L815.00 531.9 L815.50 539.7 L816.00 538.4 L816.50 540.0 L817.00 535.3 L817.50 539.9 L818.00 536.9 L818.50 536.5 L819.00 529.7 L819.50 535.0 L820.00 532.3 L820.50 540.1 L821.00 532.0 L821.50 539.4 L822.00 539.8 L822.50 540.0 L823.00 538.1 L823.50 539.1 L824.00 537.7 L824.50 538.5 L825.00 532.7 L825.50 539.7 L826.00 536.5 L826.50 527.7 L827.00 534.3 L827.50 532.9 L828.00 532.3 L828.50 536.0 L829.00 526.4 L829.50 523.9 L830.00 537.2 L830.50 536.8 L831.00 524.9 L831.50 534.3 L832.00 535.5 L832.50 527.6 L833.00 536.2 L833.50 535.5 L834.00 527.3 L834.50 529.8 L835.00 523.0 L835.50 534.5 L836.00 534.7 L836.50 515.8 L837.00 534.1 L837.50 526.9 L838.00 525.4 L838.50 533.1 L839.00 531.4 L839.50 524.9 L840.00 507.0 L840.50 526.9 L841.00 510.9 L841.50 513.5 L842.00 515.3 L842.50 502.3 L843.00 512.6 L843.50 524.4 L844.00 528.8 L844.50 522.5 L845.00 513.7 L845.50 497.4 L846.00 508.3 L846.50 514.4 L847.00 499.1 L847.50 524.8 L848.00 519.1 L848.4 546.5Z" fill="#ff0000"/>
<path d="M169.50 533.2V516.9M172.50 518.4V514.1M174.50 530.6V524.7M175.50 536.1V524.8M176.50 537.8V523.4M177.50 538.3V515.8M178.00 521.7V524.0M179.50 538.1V528.3M180.00 539.1V519.9M182.50 536.4V531.1M183.50 534.3V520.6M184.00 532.7V525.9M185.50 540.6V524.8M186.00 537.4V532.3M186.50 537.2V526.0M188.00 535.4V524.6M191.00 541.7V525.0M193.00 536.8V529.5M193.50 542.3V531.3M195.00 542.2V532.0M196.50 536.7V535.7M202.00 534.9V533.1M205.50 537.3V536.2M206.00 542.8V532.5M206.50 536.4V536.0M207.50 541.8V535.7M208.00 534.2V535.6M211.00 542.8V524.6M212.00 542.0V535.9M213.50 542.1V529.6M214.00 542.0V534.6M215.00 540.2V529.4M218.00 541.8V536.2M219.50 538.1V526.1M222.00 536.9V533.2M225.00 539.4V527.2M227.50 542.6V535.5M228.50 542.6V536.8M229.00 538.3V534.2M235.50 538.8V526.2M237.00 541.5V533.4M238.00 542.0V529.8M238.50 537.4V526.9M240.00 535.5V535.7M243.00 537.5V526.3M244.50 535.6V536.9M246.50 540.3V531.8M249.00 543.0V535.4M250.50 540.8V532.2M251.00 535.9V532.5M253.00 535.6V525.5M253.50 541.4V536.8M256.00 542.6V536.6M257.00 542.3V536.3M257.50 543.0V535.6M258.00 540.9V534.0M259.50 541.1V532.4M260.00 542.9V536.8M263.00 540.2V527.7M266.00 535.2V535.2M268.50 542.8V526.6M269.00 537.5V535.6M275.50 543.1V536.9M276.00 537.4V536.2M279.00 541.4V529.7M281.00 534.7V536.9M281.50 543.0V530.5M282.00 539.6V536.6M284.50 542.5V524.7M285.50 542.8V536.6M287.00 539.0V534.4M290.00 536.7V531.5M299.00 520.1V514.1M299.50 526.7V514.9M301.00 524.6V517.3M303.50 536.5V529.3M304.00 536.6V528.3M310.50 544.0V535.2M312.00 540.4V538.8M313.50 540.0V540.4M314.00 541.1V540.2M318.50 543.7V533.8M319.50 541.7V538.8M320.50 540.1V536.8M321.50 544.6V538.7M324.50 539.4V537.8M326.00 544.7V540.4M330.00 539.6V532.9M330.50 544.4V537.2M333.50 542.8V533.8M334.50 538.9V532.5M335.50 534.0V533.3M338.50 533.6V519.7M339.00 526.3V519.3M339.50 538.9V527.3M343.00 539.3V528.8M345.50 539.5V524.9M347.00 538.5V523.5M348.00 529.8V518.1M349.50 533.3V528.4M352.00 538.6V527.1M353.50 539.4V529.4M355.50 538.5V519.1M358.00 540.6V528.2M358.50 540.1V522.1M361.00 540.8V526.9M362.50 538.4V524.9M366.00 531.2V525.9M366.50 534.9V532.8M369.50 542.5V527.8M371.00 537.4V533.6M371.50 538.1V535.6M376.50 539.0V534.4M379.50 539.8V523.3M383.50 537.0V534.6M391.50 532.6V534.9M393.50 540.4V526.3M394.00 540.9V523.1M396.00 540.8V533.1M397.50 541.9V528.3M399.00 533.7V529.9M401.00 539.5V534.4M404.00 540.7V525.3M405.50 531.9V532.8M407.50 535.4V533.9M408.50 531.7V531.6M409.00 541.7V534.8M412.50 534.2V522.9M414.00 541.3V522.8M414.50 540.7V528.1M417.00 540.4V527.9M418.00 540.3V525.0M419.50 542.1V522.7M421.00 541.7V528.1M422.00 537.6V528.7M424.00 537.9V533.1M425.50 538.5V531.5M430.50 538.7V522.1M432.00 531.5V520.8M432.50 539.3V529.8M433.00 540.6V523.7M433.50 540.2V529.2M436.50 530.6V528.5M439.00 536.6V518.5M440.00 529.6V519.5M440.50 537.7V529.3M443.00 538.8V528.9M445.50 533.0V522.5M450.00 537.7V524.8M452.50 542.2V533.3M453.00 540.1V535.3M454.00 542.7V531.9M456.50 543.1V530.6M459.50 542.5V535.0M460.00 541.0V536.4M460.50 540.9V533.0M461.00 539.8V539.2M464.00 545.0V541.2M464.50 544.7V538.2M465.50 545.1V538.0M471.50 542.0V540.8M473.50 544.3V541.0M476.50 544.8V538.7M478.00 542.3V538.1M479.50 544.6V540.6M484.00 545.2V540.2M484.50 541.8V540.3M486.50 541.6V539.5M487.00 544.4V540.2M489.50 542.9V540.6M490.50 545.2V541.2M491.00 545.2V541.2M491.50 544.0V537.0M494.50 541.8V541.4M496.00 544.0V540.2M497.50 543.3V537.1M498.00 544.0V541.4M503.00 543.7V536.3M504.00 543.4V539.9M504.50 542.8V538.4M506.00 545.1V535.1M508.50 543.9V535.2M510.00 541.8V537.6M513.50 543.0V541.2M514.00 543.6V540.5M514.50 545.1V537.8M516.50 544.4V540.0M517.00 544.4V536.1M517.50 544.4V534.9M518.50 545.1V537.8M530.50 541.9V537.9M531.00 541.2V541.1M533.00 543.1V534.5M533.50 544.9V539.7M538.00 540.2V540.3M538.50 545.0V541.1M540.50 543.4V540.1M542.50 544.2V537.2M544.50 542.2V535.5M546.00 541.0V538.7M549.00 540.1V539.5M551.50 540.5V540.3M552.00 541.1V536.5M553.00 541.8V540.0M555.50 540.4V539.0M556.50 541.7V538.7M559.50 540.6V540.2M560.00 544.8V540.3M561.50 543.6V536.0M562.00 541.5V534.4M562.50 541.6V540.9M567.50 543.4V535.4M568.00 540.9V537.3M568.50 542.6V536.4M570.50 541.5V540.8M571.50 544.8V536.6M572.50 544.9V537.6M573.50 543.9V540.0M576.50 542.1V540.0M580.50 541.8V539.4M586.00 540.0V534.3M588.50 541.2V536.4M590.00 542.0V533.4M592.50 544.8V538.6M597.00 543.1V540.7M599.50 543.3V540.6M602.00 542.5V540.6M602.50 543.5V536.4M603.50 543.7V540.4M607.50 542.6V539.7M612.50 539.5V534.5M614.00 544.2V535.7M615.00 543.5V535.8M619.50 544.1V539.5M621.50 544.0V538.5M624.50 534.3V534.8M625.00 541.5V533.0M625.50 533.8V524.5M626.00 540.9V522.5M626.50 540.9V533.7M627.00 539.8V532.7M630.50 537.9V518.1M631.00 533.4V517.8M631.50 526.1V517.4M635.50 538.1V519.1M637.00 525.3V525.8M639.50 525.8V520.9M640.00 524.6V517.5M641.00 533.8V518.0M643.00 532.8V519.9M647.00 536.6V532.5M650.00 543.1V537.9M651.00 543.3V529.2M652.50 536.9V536.2M656.00 538.9V529.8M659.00 543.4V537.1M659.50 543.0V536.4M662.00 539.8V535.0M664.00 536.7V537.9M670.50 543.8V532.9M672.00 543.4V530.4M674.00 538.8V537.9M677.50 542.4V538.6M678.00 540.0V531.7M679.50 541.2V535.0M680.00 542.6V529.6M680.50 540.1V538.1M682.00 539.2V533.3M683.50 541.3V536.9M684.50 543.1V538.6M685.00 541.7V537.8M687.00 539.6V538.0M688.00 543.8V538.6M692.50 543.5V530.9M694.00 543.7V537.7M695.50 542.7V538.2M699.00 541.1V538.9M704.00 543.5V538.6M707.00 543.3V537.2M707.50 538.2V538.8M708.50 542.3V531.6M709.00 544.0V538.5M712.50 540.0V538.3M715.00 543.5V539.0M715.50 543.1V537.8M719.00 542.0V538.7M720.50 541.9V533.7M723.00 541.8V527.1M728.00 541.9V522.5M730.00 538.6V522.5M730.50 541.9V527.3M732.00 542.0V533.6M732.50 535.3V530.0M733.00 535.5V530.0M739.50 534.1V532.7M741.00 537.4V534.3M742.50 539.8V522.5M745.50 541.9V532.6M747.00 531.9V533.7M751.00 541.1V531.0M751.50 537.8V522.7M754.00 541.9V532.5M758.50 532.4V532.3M762.50 534.6V531.7M764.50 537.3V522.5M765.50 540.7V534.4M771.00 538.4V522.5M771.50 539.9V531.8M772.50 542.0V526.4M774.00 533.5V534.5M775.00 540.5V531.5M776.00 531.4V534.4M776.50 536.7V533.7M778.00 539.5V531.9M779.00 535.0V534.3M780.00 532.7V525.6M784.50 540.8V528.1M785.00 536.0V526.9M787.50 531.3V533.0M789.00 537.1V534.4M790.50 537.6V522.8M792.50 535.3V533.5M793.50 539.2V533.1M797.00 536.6V534.5M799.00 538.9V532.6M799.50 540.7V522.5M802.00 534.9V534.3M813.00 537.5V533.1M813.50 540.2V533.2M814.50 536.7V523.8M818.00 537.9V531.1M821.00 533.0V532.3M822.00 540.8V527.8M823.00 539.1V532.3M823.50 540.1V530.2M824.50 539.5V520.5M825.50 540.7V520.1M826.00 537.5V519.7M826.50 528.7V525.4M827.00 535.3V528.0M828.50 537.0V528.7M829.50 524.9V516.9M832.50 528.6V520.7M833.50 536.5V521.6M835.00 524.0V513.4M835.50 535.5V521.1M837.00 535.1V510.2M837.50 527.9V518.7M843.00 513.6V503.9M843.50 525.4V503.6M847.50 525.8V501.1" fill="none" stroke="#ff0000" stroke-opacity="0.75" stroke-width="0.7"/>
<path d="M857.50 546.5V546.1M858.10 546.5V545.6M858.70 546.5V546.1M859.30 546.5V546.0M859.90 546.5V545.7M860.50 546.5V545.8M861.10 546.5V545.6M861.70 546.5V533.7M862.30 546.5V536.5M862.90 546.5V538.6M863.50 546.5V540.1M864.10 546.5V541.2M864.70 546.5V542.1M865.30 546.5V542.7M865.90 546.5V543.2M866.50 546.5V543.5M867.10 546.5V543.8M867.70 546.5V544.0M868.30 546.5V545.2M868.90 546.5V546.2M869.50 546.5V546.0M870.10 546.5V546.0M870.70 546.5V545.8M871.30 546.5V545.7M871.90 546.5V545.7M872.50 546.5V545.0M873.10 546.5V545.7M873.70 546.5V545.5M874.30 546.5V545.0M874.90 546.5V545.4M875.50 546.5V545.5M876.10 546.5V545.2M876.70 546.5V545.8M877.30 546.5V546.2M877.90 546.5V545.1M878.50 546.5V545.6M879.10 546.5V545.5M879.70 546.5V546.1M880.30 546.5V545.3M880.90 546.5V545.8M881.50 546.5V545.4M882.10 546.5V545.9M882.70 546.5V545.1M883.30 546.5V545.8M883.90 546.5V545.9M862.5 546.5V510M861.8 546.5V536M863.4 546.5V532" fill="none" stroke="#ff0000" stroke-width="0.7"/>
<text x="932.6" y="79.00" class="t" font-size="15.5" textLength="47.3" lengthAdjust="spacingAndGlyphs">187.8k</text>
<text x="932.6" y="129.00" class="t" font-size="15.5" textLength="47.3" lengthAdjust="spacingAndGlyphs">187.5k</text>
<text x="932.6" y="178.00" class="t" font-size="15.5" textLength="47.3" lengthAdjust="spacingAndGlyphs">187.2k</text>
<text x="932.6" y="228.00" class="t" font-size="15.5" textLength="47.3" lengthAdjust="spacingAndGlyphs">187.0k</text>
<text x="932.6" y="277.00" class="t" font-size="15.5" textLength="47.3" lengthAdjust="spacingAndGlyphs">186.8k</text>
<text x="932.6" y="327.00" class="t" font-size="15.5" textLength="47.3" lengthAdjust="spacingAndGlyphs">186.5k</text>
<text x="932.6" y="376.00" class="t" font-size="15.5" textLength="47.3" lengthAdjust="spacingAndGlyphs">186.2k</text>
<text x="931.8" y="454.00" class="t" font-size="15.5">3</text>
<text x="931.8" y="487.00" class="t" font-size="15.5">2</text>
<text x="931.8" y="520.00" class="t" font-size="15.5">1</text>
<text x="931.8" y="552.00" class="t" font-size="15.5">0</text>
<text x="221.4" y="568" text-anchor="middle" class="t" font-size="15.5" textLength="38.7" lengthAdjust="spacingAndGlyphs">10:00</text>
<text x="335.3" y="568" text-anchor="middle" class="t" font-size="15.5" textLength="38.7" lengthAdjust="spacingAndGlyphs">11:00</text>
<text x="449.1" y="568" text-anchor="middle" class="t" font-size="15.5" textLength="38.7" lengthAdjust="spacingAndGlyphs">12:00</text>
<text x="563.0" y="568" text-anchor="middle" class="t" font-size="15.5" textLength="38.7" lengthAdjust="spacingAndGlyphs">13:00</text>
<text x="676.9" y="568" text-anchor="middle" class="t" font-size="15.5" textLength="38.7" lengthAdjust="spacingAndGlyphs">14:00</text>
<text x="790.8" y="568" text-anchor="middle" class="t" font-size="15.5" textLength="38.7" lengthAdjust="spacingAndGlyphs">15:00</text>
<text x="904.6" y="568" text-anchor="middle" class="t" font-size="15.5" textLength="38.7" lengthAdjust="spacingAndGlyphs">16:00</text>
<path d="M922 73.1H927M922 122.6H927M922 172.1H927M922 221.7H927M922 271.2H927M922 320.7H927M922 370.2H927M921.5 448.4H926.5M921.5 481.1H926.5M921.5 513.8H926.5M921.5 546.5H926.5M221.4 546.7V551.7M335.3 546.7V551.7M449.1 546.7V551.7M563.0 546.7V551.7M676.9 546.7V551.7M790.8 546.7V551.7M904.6 546.7V551.7" stroke="#ff8c00" stroke-width="1.1" fill="none"/>
<text transform="translate(991.7 199.8) rotate(90)" class="t" font-size="15" textLength="41" lengthAdjust="spacingAndGlyphs">Points</text>
<text transform="translate(949.6 426.4) rotate(90)" class="t" font-size="15" textLength="113.6" lengthAdjust="spacingAndGlyphs">Volume (Million)</text>
</svg></body></html>
